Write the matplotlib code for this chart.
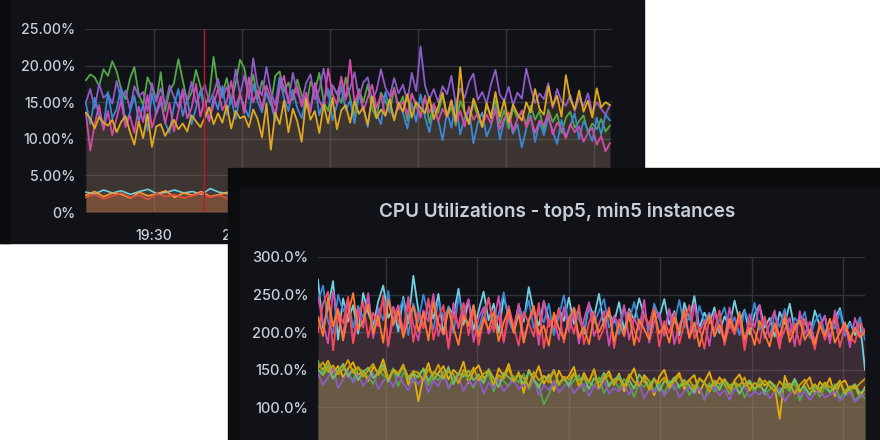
import numpy as np
import matplotlib
matplotlib.use("Agg")
import matplotlib.pyplot as plt
from matplotlib.patches import Rectangle

# ---- panel 1 data (percent), 120 samples, 19:07 - 22:05 ----
green1 = [18.0, 18.8, 18.4, 17.2, 19.5, 18.6, 20.6, 19.2, 16.8, 15.4,
          18.2, 19.8, 16.1, 14.6, 18.4, 17.0, 15.2, 19.1, 13.8, 16.5,
          17.6, 20.9, 18.0, 15.1, 16.3, 19.4, 17.2, 14.5, 15.8, 21.2,
          17.0, 16.1, 18.3, 15.0, 17.5, 20.8, 19.6, 16.0, 18.8, 15.4,
          17.9, 16.3, 14.6, 18.6, 19.2, 16.4, 17.7, 15.3, 18.1, 16.0,
          14.2, 17.8, 16.5, 19.0, 15.1, 13.8, 17.3, 16.2, 14.9, 18.4,
          15.6, 13.1, 16.8, 15.0, 17.4, 14.1, 12.8, 16.3, 15.2, 13.6,
          17.0, 14.4, 15.8, 12.5, 16.1, 14.8, 13.3, 15.9, 12.2, 14.7,
          13.5, 16.0, 12.9, 14.3, 11.8, 15.2, 13.7, 12.4, 14.9, 13.0,
          11.6, 14.6, 13.2, 15.3, 12.1, 13.9, 11.4, 14.2, 12.8, 13.6,
          11.9, 14.5, 12.6, 13.8, 11.2, 14.0, 12.3, 13.4, 10.8, 12.9,
          13.7, 11.5, 12.4, 13.2, 10.9, 12.1, 11.3, 12.7, 11.0, 11.8]
purple1 = [15.0, 16.8, 14.2, 17.5, 15.6, 16.2, 14.8, 17.9, 15.3, 16.6,
           14.0, 17.2, 15.8, 16.4, 13.8, 17.6, 15.1, 16.9, 14.5, 17.3,
           15.7, 14.3, 16.8, 15.2, 17.8, 14.9, 16.1, 17.4, 15.0, 16.3,
           18.2, 15.6, 17.1, 14.8, 19.5, 16.0, 18.7, 15.4, 21.0, 17.2,
           15.9, 19.8, 16.5, 14.6, 18.4, 17.0, 15.2, 19.0, 16.3, 15.0,
           17.6, 18.8, 15.4, 16.7, 19.6, 15.8, 17.3, 16.1, 18.0, 15.5,
           16.9, 19.1, 15.6, 17.7, 18.4, 15.2, 16.6, 19.5, 17.0, 15.8,
           18.3, 16.2, 17.4, 15.1, 19.0, 16.5, 22.6, 17.3, 15.4, 16.8,
           15.0, 17.2, 16.1, 18.6, 14.7, 16.9, 15.6, 17.8, 18.9, 15.3,
           16.4, 14.8, 17.5, 19.4, 16.0, 15.2, 17.1, 14.6, 16.3, 15.5,
           19.6, 17.0, 14.9, 16.2, 15.4, 17.6, 14.2, 16.8, 15.1, 14.5,
           16.0, 13.8, 15.7, 14.4, 16.2, 13.6, 15.0, 14.1, 13.3, 14.6]
magenta1 = [13.5, 8.4, 12.0, 14.6, 11.2, 13.8, 10.5, 12.9, 15.2, 11.6,
            13.2, 10.8, 14.4, 12.3, 16.0, 11.5, 13.6, 15.8, 12.1, 14.9,
            11.0, 13.7, 16.4, 12.8, 14.2, 17.5, 13.0, 15.6, 12.4, 14.7,
            16.8, 13.9, 15.1, 17.9, 14.3, 16.2, 13.5, 18.4, 15.0, 16.6,
            14.1, 17.3, 15.5, 13.2, 16.9, 18.6, 14.8, 15.7, 17.2, 14.4,
            16.3, 13.6, 17.6, 15.2, 14.0, 19.6, 16.1, 14.7, 18.5, 15.3,
            20.8, 14.9, 16.5, 13.8, 15.6, 17.4, 14.2, 16.0, 13.1, 15.4,
            16.8, 14.0, 15.1, 13.3, 16.2, 14.5, 12.9, 15.7, 13.6, 14.8,
            12.4, 14.1, 13.0, 15.3, 12.2, 13.8, 11.7, 14.4, 12.6, 13.5,
            11.9, 13.3, 12.1, 14.0, 11.3, 12.8, 13.6, 11.1, 12.7, 13.9,
            11.6, 12.9, 10.8, 12.5, 11.9, 13.4, 10.6, 12.2, 11.4, 10.1,
            12.0, 10.9, 11.7, 9.6, 10.8, 11.5, 9.2, 10.4, 8.3, 9.4]
blue1 = [14.8, 12.0, 15.6, 13.2, 11.5, 16.4, 12.8, 14.1, 17.0, 11.9,
         13.6, 15.9, 12.4, 14.7, 11.1, 16.2, 13.4, 15.0, 12.2, 10.8,
         14.5, 16.8, 13.1, 15.4, 12.0, 14.2, 16.6, 13.7, 12.5, 15.8,
         14.0, 17.2, 13.3, 15.6, 12.7, 16.0, 14.4, 12.9, 17.5, 15.1,
         13.6, 16.3, 14.9, 12.4, 18.3, 15.5, 13.8, 16.7, 14.2, 12.8,
         15.9, 14.0, 17.6, 13.2, 15.3, 16.8, 12.5, 14.6, 17.1, 13.9,
         15.2, 12.1, 16.0, 14.3, 11.6, 15.7, 13.4, 12.0, 16.4, 14.1,
         12.7, 15.0, 13.5, 11.4, 14.8, 12.3, 16.1, 13.0, 10.9, 14.2,
         12.6, 9.8, 13.7, 11.5, 15.0, 10.6, 12.9, 14.1, 9.4, 12.2,
         13.6, 10.3, 11.8, 14.4, 9.9, 12.5, 13.1, 10.7, 12.0, 8.8,
         11.4, 13.2, 9.6, 12.3, 10.5, 13.0, 11.1, 9.3, 12.6, 10.2,
         11.8, 13.5, 10.0, 12.4, 11.2, 9.7, 12.9, 10.6, 13.3, 12.5]
yellow1 = [13.6, 12.8, 11.4, 13.0, 12.2, 11.8, 12.6, 10.9, 12.3, 13.1,
           11.0, 9.2, 12.4, 10.1, 13.4, 8.9, 11.7, 12.0, 10.4, 11.5,
           12.6, 11.3, 12.1, 11.0, 13.2, 12.4, 11.6, 12.9, 14.3, 12.0,
           13.5, 12.2, 14.6, 11.4, 13.8, 12.8, 13.1, 11.6, 14.0, 12.7,
           10.2, 14.8, 8.5, 13.6, 12.0, 15.2, 10.9, 14.1, 12.4, 9.6,
           15.5, 12.6, 13.8, 10.8, 14.7, 12.1, 15.6, 11.3, 13.9, 14.6,
           12.2, 15.1, 13.4, 14.3, 11.9, 15.8, 12.8, 14.0, 13.2, 15.4,
           12.5, 14.9, 13.7, 16.1, 12.9, 15.0, 14.2, 13.5, 15.7, 12.7,
           14.4, 16.3, 13.1, 15.2, 12.4, 19.8, 13.6, 12.0, 15.5, 13.8,
           11.6, 14.9, 12.8, 16.4, 13.0, 15.3, 12.2, 14.7, 13.4, 12.5,
           15.0, 13.6, 16.8, 14.1, 13.3, 17.2, 14.5, 15.9, 13.0, 18.7,
           15.4, 14.0, 16.6, 13.7, 15.2, 12.9, 16.9, 14.3, 15.0, 14.6]
# low group, 60 samples
orange1 = [2.3, 2.8, 2.1, 2.6, 2.4, 1.9, 2.7, 2.2, 2.5, 2.9, 2.0, 2.6, 2.3, 2.8, 2.1,
           2.4, 2.7, 2.2, 2.5, 1.9, 2.6, 2.3, 2.9, 2.1, 2.5, 2.7, 2.2, 2.4, 2.0, 2.6,
           2.3, 2.8, 2.2, 2.5, 2.1, 2.7, 2.4, 2.0, 2.6, 2.3, 2.8, 2.2, 2.5, 1.9, 2.6,
           2.4, 2.7, 2.1, 2.5, 2.3, 2.8, 2.0, 2.4, 2.6, 2.2, 2.7, 2.3, 2.5, 2.1, 2.4]
cyan1 = [2.7, 2.5, 3.0, 2.6, 2.9, 2.4, 2.8, 3.1, 2.5, 2.7, 3.0, 2.6, 2.8, 2.4, 3.2,
         2.7, 2.5, 2.9, 2.6, 3.0, 2.8, 2.5, 2.7, 3.1, 2.6, 2.9, 2.4, 2.8, 3.0, 2.6,
         2.7, 2.5, 2.9, 3.1, 2.6, 2.8, 2.5, 3.0, 2.7, 2.9, 2.4, 2.8, 2.6, 3.0, 2.7,
         2.5, 2.9, 2.6, 2.8, 3.1, 2.5, 2.7, 2.9, 2.6, 2.8, 2.4, 3.0, 2.7, 2.6, 2.8]
red1 = [2.0, 2.4, 1.8, 2.2, 2.6, 2.0, 2.3, 1.7, 2.5, 2.1, 2.4, 1.9, 2.2, 2.6, 2.0,
        2.3, 1.8, 2.5, 2.1, 2.4, 1.9, 2.2, 2.0, 2.6, 2.1, 1.8, 2.4, 2.2, 2.5, 1.9,
        2.3, 2.0, 2.6, 2.1, 2.4, 1.8, 2.2, 2.5, 2.0, 2.3, 1.9, 2.4, 2.1, 2.6, 2.0,
        2.2, 1.8, 2.5, 2.3, 2.0, 2.4, 2.1, 1.9, 2.5, 2.2, 2.0, 2.3, 2.6, 2.1, 2.2]

# ---- panel 2 data (percent), 110 samples ----
cyan2 = [270, 205, 232, 268, 190, 245, 214, 236, 198, 252,
         226, 208, 241, 262, 219, 233, 201, 247, 212, 275,
         229, 206, 240, 218, 251, 197, 234, 222, 258, 210,
         243, 203, 228, 254, 216, 238, 199, 247, 221, 205,
         236, 214, 260, 226, 209, 241, 218, 200, 232, 215,
         246, 211, 229, 198, 238, 220, 251, 207, 225, 213,
         240, 202, 231, 216, 245, 222, 208, 235, 219, 244,
         210, 228, 196, 239, 217, 248, 205, 226, 212, 233,
         199, 221, 208, 242, 214, 230, 197, 224, 236, 206,
         219, 194, 227, 211, 238, 203, 221, 215, 196, 229,
         208, 222, 190, 218, 232, 201, 214, 196, 213, 150]
blue2 = [240, 262, 214, 198, 250, 228, 243, 206, 235, 219,
         248, 201, 232, 216, 255, 209, 227, 244, 196, 238,
         213, 250, 223, 204, 241, 218, 233, 199, 247, 225,
         211, 236, 202, 229, 245, 208, 224, 253, 215, 200,
         231, 219, 242, 205, 227, 213, 238, 196, 222, 249,
         208, 233, 217, 201, 236, 212, 228, 244, 206, 221,
         197, 232, 215, 240, 209, 225, 203, 238, 218, 200,
         229, 212, 243, 206, 222, 199, 235, 214, 226, 194,
         217, 233, 205, 220, 196, 229, 211, 239, 203, 216,
         193, 224, 207, 231, 199, 219, 210, 227, 192, 214,
         224, 198, 216, 205, 229, 195, 212, 203, 220, 190]
magenta2 = [248, 212, 185, 254, 220, 196, 243, 188, 231, 206,
            252, 192, 226, 241, 183, 218, 236, 200, 247, 210,
            189, 229, 214, 251, 195, 222, 181, 239, 205, 226,
            244, 187, 219, 233, 198, 212, 248, 186, 224, 203,
            238, 192, 215, 229, 183, 242, 207, 221, 190, 234,
            201, 226, 185, 217, 240, 195, 211, 228, 182, 222,
            208, 236, 190, 219, 203, 243, 186, 214, 226, 195,
            231, 184, 210, 222, 193, 238, 200, 215, 182, 227,
            205, 190, 233, 198, 216, 184, 224, 207, 236, 192,
            211, 229, 186, 203, 219, 181, 228, 197, 214, 188,
            206, 222, 185, 229, 198, 212, 180, 219, 196, 204]
red2 = [200, 238, 254, 176, 229, 212, 247, 185, 221, 240,
        193, 226, 208, 249, 181, 234, 215, 199, 241, 187,
        227, 205, 245, 190, 219, 236, 178, 224, 209, 239,
        196, 230, 183, 216, 246, 201, 222, 188, 235, 207,
        182, 227, 212, 194, 239, 179, 218, 205, 231, 186,
        221, 198, 236, 184, 213, 227, 190, 206, 233, 179,
        217, 194, 229, 203, 187, 224, 210, 232, 181, 215,
        199, 226, 185, 212, 236, 191, 207, 178, 220, 202,
        229, 183, 211, 197, 224, 176, 214, 200, 185, 221,
        193, 208, 178, 225, 196, 212, 183, 218, 200, 177,
        214, 190, 205, 221, 180, 209, 195, 186, 213, 199]
orange2 = [220, 195, 246, 208, 231, 189, 224, 252, 203, 215,
           237, 198, 222, 186, 244, 210, 229, 193, 217, 235,
           201, 226, 189, 240, 212, 197, 231, 206, 183, 222,
           208, 236, 194, 219, 203, 227, 188, 213, 230, 199,
           224, 186, 216, 235, 197, 209, 182, 226, 205, 191,
           218, 232, 193, 207, 184, 221, 200, 214, 229, 188,
           211, 196, 225, 183, 217, 204, 190, 228, 198, 209,
           186, 219, 201, 230, 192, 213, 181, 207, 223, 195,
           210, 188, 218, 202, 227, 191, 206, 183, 215, 198,
           181, 212, 194, 220, 187, 205, 216, 190, 202, 184,
           209, 195, 218, 186, 200, 213, 189, 206, 193, 201]
yellow2 = [158, 150, 162, 146, 155, 140, 152, 160, 143, 149,
           135, 154, 147, 164, 138, 151, 145, 157, 130, 148,
           108, 141, 159, 136, 146, 155, 137, 150, 143, 161,
           132, 148, 156, 139, 145, 128, 152, 141, 158, 134,
           147, 119, 150, 138, 155, 131, 144, 122, 149, 136,
           142, 154, 127, 146, 133, 151, 125, 140, 148, 130,
           145, 121, 139, 152, 128, 143, 135, 116, 141, 150,
           129, 138, 146, 124, 137, 143, 119, 134, 147, 126,
           140, 131, 118, 136, 144, 127, 133, 121, 139, 129,
           135, 129, 85, 142, 124, 137, 120, 132, 140, 118,
           134, 126, 139, 115, 131, 136, 122, 129, 113, 127]
green2 = [162, 145, 157, 139, 150, 155, 142, 136, 153, 147,
          141, 131, 149, 143, 137, 152, 128, 146, 139, 133,
          144, 150, 129, 141, 136, 148, 125, 140, 134, 145,
          138, 126, 143, 132, 147, 121, 139, 135, 128, 142,
          133, 145, 124, 137, 130, 104, 117, 135, 129, 139,
          127, 136, 143, 121, 134, 128, 140, 119, 132, 137,
          125, 138, 130, 114, 133, 127, 136, 122, 131, 118,
          135, 124, 129, 137, 116, 130, 126, 110, 133, 121,
          128, 134, 119, 126, 131, 113, 127, 122, 135, 117,
          124, 130, 115, 128, 121, 133, 109, 125, 119, 127,
          114, 126, 120, 131, 112, 123, 128, 108, 118, 112]
purple2 = [145, 130, 140, 152, 126, 137, 148, 133, 143, 129,
           138, 146, 124, 135, 141, 127, 144, 132, 123, 139,
           131, 142, 120, 136, 128, 145, 125, 134, 140, 122,
           135, 129, 141, 118, 133, 126, 138, 121, 130, 137,
           124, 132, 127, 139, 116, 130, 123, 135, 120, 128,
           134, 119, 127, 131, 115, 129, 124, 136, 118, 126,
           121, 130, 117, 127, 133, 112, 125, 120, 129, 115,
           124, 131, 113, 122, 127, 118, 126, 111, 121, 128,
           116, 123, 110, 125, 119, 128, 114, 121, 117, 124,
           112, 120, 126, 108, 118, 123, 115, 121, 110, 119,
           124, 113, 117, 121, 109, 116, 120, 107, 114, 118]
olive2 = [150, 143, 155, 138, 148, 158, 141, 151, 136, 147,
          153, 139, 146, 157, 134, 149, 142, 155, 137, 145,
          140, 152, 135, 147, 143, 138, 154, 131, 146, 141,
          149, 136, 144, 133, 151, 139, 127, 146, 140, 135,
          143, 131, 148, 137, 126, 142, 138, 150, 132, 140,
          129, 145, 136, 141, 124, 139, 133, 146, 128, 137,
          142, 130, 136, 125, 144, 134, 128, 139, 122, 135,
          131, 140, 126, 136, 129, 120, 138, 132, 127, 134,
          123, 137, 129, 133, 118, 131, 136, 125, 130, 121,
          134, 127, 119, 132, 126, 138, 123, 128, 116, 130,
          125, 133, 120, 128, 135, 117, 126, 131, 119, 124]
gold2 = [152, 160, 147, 156, 144, 151, 163, 146, 154, 141,
         149, 158, 143, 152, 137, 150, 145, 156, 140, 148,
         146, 136, 151, 143, 157, 139, 148, 144, 132, 150,
         141, 153, 136, 145, 149, 131, 143, 138, 152, 135,
         144, 139, 128, 147, 136, 142, 133, 149, 130, 141,
         137, 146, 129, 140, 135, 150, 126, 138, 143, 132,
         139, 127, 144, 134, 129, 141, 123, 137, 132, 140,
         126, 135, 142, 130, 137, 124, 139, 133, 121, 136,
         131, 138, 125, 134, 128, 140, 122, 133, 127, 136,
         129, 121, 135, 126, 132, 118, 130, 137, 124, 131,
         120, 133, 127, 124, 136, 119, 128, 125, 132, 138]

y1_ticks = [0, 5, 10, 15, 20, 25]
y1_labels = ["0%", "5.00%", "10.00%", "15.00%", "20.00%", "25.00%"]
y2_ticks = [0, 50, 100, 150, 200, 250, 300]
y2_labels = ["0%", "50.0%", "100.0%", "150.0%", "200.0%", "250.0%", "300.0%"]
x_ticks = [30, 60, 90, 120, 150, 180]
x_labels = ["19:30", "20:00", "20:30", "21:00", "21:30", "22:00"]
title2 = "CPU Utilizations - top5, min5 instances"
annotation_t = 47.0

plt.rcParams['font.family'] = ['Inter', 'DejaVu Sans']
plt.rcParams['font.weight'] = 'medium'
PANEL = '#111217'
EDGE = '#0b0c0e'
TXT = '#c7d0d9'
GRID = '#303338'

W, H = 880, 440
fig = plt.figure(figsize=(8.8, 4.4), dpi=100, facecolor='white')


def box(x0, y0, x1, y1):
    # pixel box (top-left origin) -> figure fraction rect
    return [x0 / W, 1 - y1 / H, (x1 - x0) / W, (y1 - y0) / H]


def style(ax, yt, yl, xlim, ylim):
    ax.set_facecolor(PANEL)
    for s in ax.spines.values():
        s.set_visible(False)
    ax.set_xlim(*xlim)
    ax.set_ylim(*ylim)
    ax.set_yticks(yt)
    ax.set_yticklabels(yl)
    ax.set_xticks(x_ticks)
    ax.tick_params(length=0, colors=TXT, labelsize=10.2, pad=7)
    ax.grid(True, color=GRID, lw=1)
    ax.set_axisbelow(True)


# panel 1 backdrop
r = box(0, 0, 644, 243)
fig.patches.append(Rectangle(r[:2], r[2], r[3], transform=fig.transFigure, color=PANEL, zorder=0))
r = box(0, 0, 10, 243)
fig.patches.append(Rectangle(r[:2], r[2], r[3], transform=fig.transFigure, color=EDGE, zorder=0.1))

ax1 = fig.add_axes(box(85, 29, 612, 212), zorder=1)
style(ax1, y1_ticks, y1_labels, (6.5, 186.1), (0, 25))
ax1.set_xticklabels(x_labels)
ax1.tick_params(axis='x', pad=12)

t1 = np.linspace(6.8, 185.4, len(green1))
t1b = np.linspace(6.8, 185.4, len(orange1))
for vals, c, a in [(green1, '#56a64b', 0.07), (purple1, '#8f5bc8', 0.06), (blue1, '#3a88d6', 0.05),
                   (magenta1, '#d44aa8', 0.06), (yellow1, '#e0a820', 0.12)]:
    ax1.fill_between(t1, 0, vals, color=c, alpha=a, lw=0)
for vals, c, a in [(cyan1, '#6ed0e0', 0.06), (orange1, '#ff9830', 0.2), (red1, '#e24d42', 0.12)]:
    ax1.fill_between(t1b, 0, vals, color=c, alpha=a, lw=0)
    ax1.plot(t1b, vals, color=c, lw=1.2)
for vals, c in [(green1, '#56a64b'), (purple1, '#8f5bc8'), (blue1, '#3a88d6'),
                (magenta1, '#d44aa8'), (yellow1, '#e0a820')]:
    ax1.plot(t1, vals, color=c, lw=1.3)
ax1.axvline(annotation_t, color='#c4162a', lw=1)

# panel 2 backdrop
r = box(228, 168, 880, 440)
fig.patches.append(Rectangle(r[:2], r[2], r[3], transform=fig.transFigure, color=EDGE, zorder=2))
r = box(240, 188, 880, 440)
fig.patches.append(Rectangle(r[:2], r[2], r[3], transform=fig.transFigure, color=PANEL, zorder=2.1))

ax2 = fig.add_axes(box(318, 257, 865, 482.6), zorder=3)
style(ax2, y2_ticks, y2_labels, (7.7, 187.2), (0, 300))
ax2.set_xticklabels([])
ax2.tick_params(axis='y', labelsize=10.5)

t2 = np.linspace(7.7, 187.2, len(cyan2))
for vals, c in [(yellow2, '#e5ac0e'), (green2, '#56a64b'), (purple2, '#8f5bc8'),
                (olive2, '#73bf69'), (gold2, '#cca300')]:
    ax2.fill_between(t2, 0, vals, color=c, alpha=0.12, lw=0)
    ax2.plot(t2, vals, color=c, lw=1.3)
for vals, c in [(cyan2, '#6ed0e0'), (blue2, '#3a88d6'), (magenta2, '#d44aa8'),
                (red2, '#f2495c'), (orange2, '#ff7830')]:
    ax2.fill_between(t2, 0, vals, color=c, alpha=0.06, lw=0)
    ax2.plot(t2, vals, color=c, lw=1.3)

fig.text(557 / W, 1 - 212 / H, title2, ha='center', va='center', color=TXT,
         fontsize=13.6, fontweight='semibold', zorder=4)

fig.savefig('out.png', dpi=100, facecolor='white')
